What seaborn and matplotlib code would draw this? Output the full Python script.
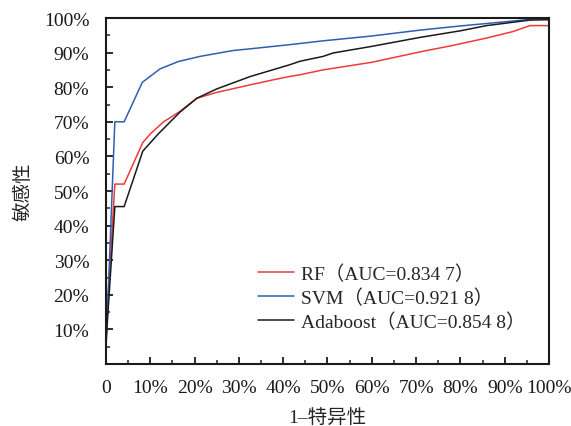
import numpy as np
import pandas as pd
import matplotlib
matplotlib.use("Agg")
import matplotlib.pyplot as plt
import seaborn as sns

# --- data ---
models = ["RF", "SVM", "Adaboost"]
auc_labels = ["RF（AUC=0.834 7）", "SVM（AUC=0.921 8）", "Adaboost（AUC=0.854 8）"]

rf_fpr = [0.0, 0.02, 0.041, 0.083, 0.10, 0.13, 0.167, 0.205, 0.25, 0.326, 0.38, 0.415,
          0.438, 0.49, 0.52, 0.60, 0.716, 0.78, 0.859, 0.919, 0.957, 1.0]
rf_tpr = [0.09, 0.52, 0.52, 0.64, 0.665, 0.70, 0.73, 0.768, 0.785, 0.807, 0.822, 0.831,
          0.836, 0.85, 0.856, 0.872, 0.904, 0.92, 0.942, 0.961, 0.978, 0.978]

svm_fpr = [0.0, 0.02, 0.041, 0.082, 0.122, 0.163, 0.212, 0.287, 0.326, 0.415, 0.49,
           0.60, 0.709, 0.80, 0.867, 0.957, 1.0]
svm_tpr = [0.04, 0.70, 0.70, 0.814, 0.853, 0.874, 0.889, 0.906, 0.911, 0.923, 0.934,
           0.948, 0.965, 0.977, 0.985, 0.996, 1.0]

ada_fpr = [0.0, 0.02, 0.041, 0.083, 0.118, 0.167, 0.205, 0.25, 0.326, 0.415, 0.438,
           0.49, 0.513, 0.60, 0.709, 0.80, 0.859, 0.957, 1.0]
ada_tpr = [0.06, 0.455, 0.455, 0.615, 0.665, 0.728, 0.768, 0.795, 0.831, 0.865, 0.875,
           0.889, 0.899, 0.918, 0.944, 0.963, 0.978, 0.994, 0.995]

colors = ["#f03a3a", "#2f5fb0", "#1a1a1a"]

frames = []
for lab, fpr, tpr in zip(auc_labels, [rf_fpr, svm_fpr, ada_fpr], [rf_tpr, svm_tpr, ada_tpr]):
    frames.append(pd.DataFrame({"fpr": fpr, "tpr": tpr, "model": lab}))
df = pd.concat(frames, ignore_index=True)

# --- style ---
sns.set_theme(style="ticks")
plt.rcParams['font.family'] = ['Liberation Serif', 'Noto Sans CJK SC', 'DejaVu Sans']
plt.rcParams['axes.unicode_minus'] = False

fig = plt.figure(figsize=(5.71, 4.27), dpi=100)
ax = fig.add_axes([0.1856, 0.1452, 0.7759, 0.8103])

sns.lineplot(data=df, x="fpr", y="tpr", hue="model", palette=colors,
             estimator=None, sort=False, linewidth=1.1, ax=ax)

ax.set_xlim(0, 1)
ax.set_ylim(0, 1)

xt = np.arange(0, 1.01, 0.1)
ax.set_xticks(xt)
ax.set_xticklabels(["0"] + [f"{int(round(v * 100))}%" for v in xt[1:]])
yt = np.arange(0.1, 1.01, 0.1)
ax.set_yticks(yt)
ax.set_yticklabels([f"{int(round(v * 100))}%" for v in yt])
ax.set_xticks(np.arange(0.05, 1.0, 0.1), minor=True)
ax.set_yticks(np.arange(0.05, 1.0, 0.1), minor=True)

ax.tick_params(which="major", direction="in", length=5, width=1.3, labelsize=14,
               colors="#1a1a1a")
ax.tick_params(which="minor", direction="in", length=3, width=1.1)
ax.tick_params(axis="y", pad=12)
ax.tick_params(axis="x", pad=11)
for side in ["top", "right", "bottom", "left"]:
    ax.spines[side].set_visible(True)
    ax.spines[side].set_color("#1a1a1a")
    ax.spines[side].set_linewidth(1.5)

ax.set_xlabel("1–特异性", fontsize=14, labelpad=9)
ax.set_ylabel("敏感性", fontsize=14, labelpad=8)

leg = ax.legend(loc="upper left", bbox_to_anchor=(0.304, 0.338), frameon=False,
                fontsize=14, handlelength=1.85, handletextpad=0.35, labelspacing=0.28)

fig.savefig("out.png", dpi=100)
